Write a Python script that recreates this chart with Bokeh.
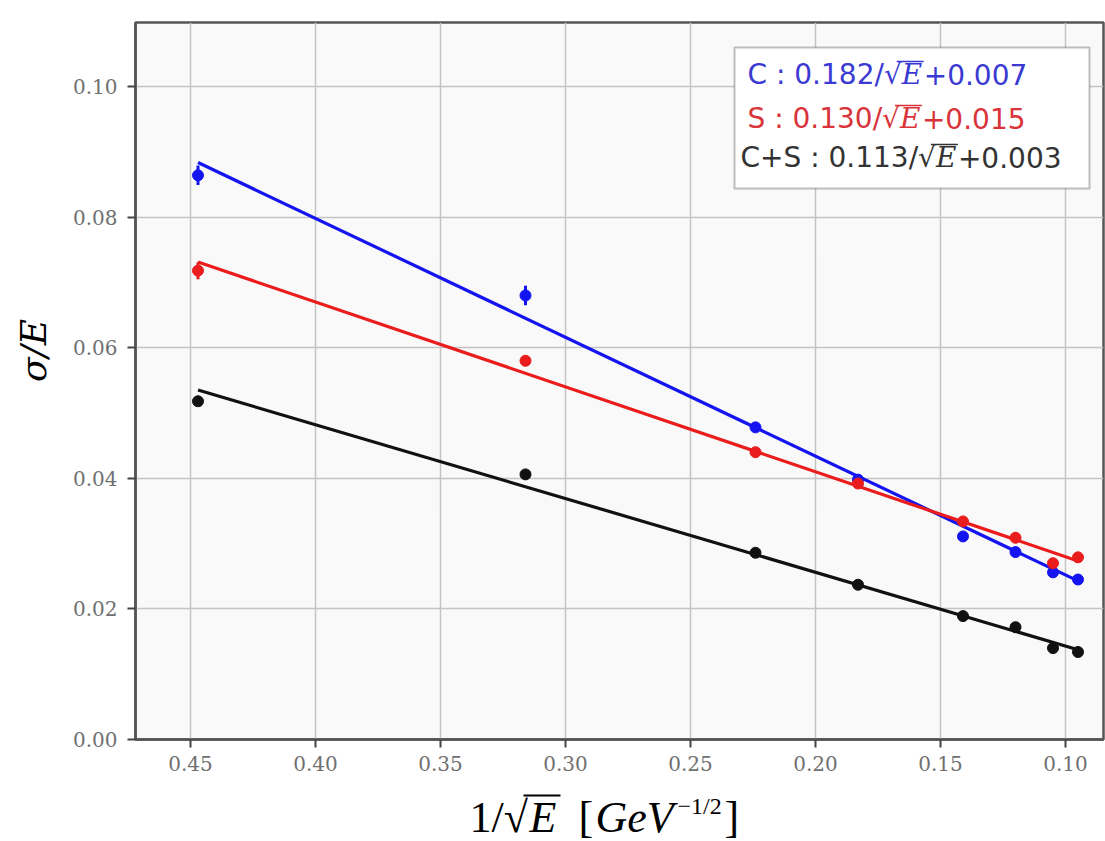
from bokeh.plotting import figure
from bokeh.layouts import column
from bokeh.models import Range1d, FixedTicker, PrintfTickFormatter, Label, BoxAnnotation
from bokeh.core.properties import value
from bokeh.embed import file_html
from bokeh.resources import INLINE
import numpy as np

# 1/sqrt(E) for the beam energies
inv_sqrt_e = [0.447, 0.316, 0.224, 0.183, 0.141, 0.120, 0.105, 0.095]

# measured resolution sigma/E and its uncertainty
c_res = [0.0864, 0.0680, 0.0478, 0.0398, 0.0311, 0.0287, 0.0256, 0.0245]
c_err = [0.0015, 0.0015, 0.0004, 0.0004, 0.0004, 0.0004, 0.0004, 0.0004]
s_res = [0.0718, 0.0580, 0.0440, 0.0392, 0.0334, 0.0309, 0.0270, 0.0279]
s_err = [0.0013, 0.0008, 0.0004, 0.0004, 0.0004, 0.0008, 0.0004, 0.0004]
cs_res = [0.0518, 0.0406, 0.0286, 0.0237, 0.0189, 0.0172, 0.0140, 0.0134]
cs_err = [0.0004, 0.0004, 0.0003, 0.0003, 0.0003, 0.0003, 0.0003, 0.0003]

# linear fits: sigma/E = a/sqrt(E) + b
c_fit = (0.182, 0.007)
s_fit = (0.130, 0.015)
cs_fit = (0.113, 0.003)

x_ticks = [0.45, 0.40, 0.35, 0.30, 0.25, 0.20, 0.15, 0.10]
y_ticks = [0.00, 0.02, 0.04, 0.06, 0.08, 0.10]

BLUE = "#1414f0"
RED = "#ea1c1c"
BLACK = "#111111"

W, H = 1105, 841
MAIN_H = 778
LAB_H = H - MAIN_H
FL, FR, FT, FB = 135, 1103, 22, 739  # frame edges in the main figure
X0, X1 = 0.472, 0.0848
Y0, Y1 = 0.0, 0.1098

p = figure(width=W, height=MAIN_H, x_range=Range1d(X0, X1), y_range=Range1d(Y0, Y1),
           output_backend="svg", toolbar_location=None,
           min_border_left=FL, min_border_right=W - FR, min_border_top=FT,
           min_border_bottom=MAIN_H - FB)

p.background_fill_color = "#f9f9f9"
p.border_fill_color = "white"
p.outline_line_color = "#555555"
p.outline_line_width = 2.5

for ax in (p.xaxis, p.yaxis):
    ax.axis_line_color = "#555555"
    ax.axis_line_width = 2.5
    ax.major_tick_line_color = "#444444"
    ax.major_tick_line_width = 2
    ax.major_tick_out = 8
    ax.major_tick_in = 0
    ax.minor_tick_line_color = None
    ax.major_label_text_font = "DejaVu Serif"
    ax.major_label_text_font_size = "20px"
    ax.major_label_text_color = "#707070"
    ax.formatter = PrintfTickFormatter(format="%.2f")
p.xaxis.ticker = FixedTicker(ticks=x_ticks)
p.yaxis.ticker = FixedTicker(ticks=y_ticks)
p.xaxis.major_label_standoff = 8
p.yaxis.major_label_standoff = 10

p.grid.grid_line_color = "#c4c4c4"
p.grid.grid_line_width = 1.5

x = np.array(inv_sqrt_e)
x_line = np.array([inv_sqrt_e[0], inv_sqrt_e[-1]])

series = [
    (c_res, c_err, c_fit, BLUE),
    (s_res, s_err, s_fit, RED),
    (cs_res, cs_err, cs_fit, BLACK),
]
for res, err, (a, b), col in series:
    y = np.array(res)
    e = np.array(err)
    p.line(x_line, a * x_line + b, line_color=col, line_width=3.2)
    p.segment(x0=x, y0=y - e, x1=x, y1=y + e, line_color=col, line_width=3)
    p.scatter(x, y, size=11, fill_color=col, line_color=col)


def label(text, cx, cy, size, font, color="black", style="normal"):
    p.add_layout(Label(x=cx - FL, y=FB - cy, x_units="screen", y_units="screen", text=text,
                       text_font=font, text_font_size=f"{size}px", text_font_style=style,
                       text_color=color, text_align="left", text_baseline="alphabetic"))


def bar(x0, x1, cy, color="black", t=2):
    p.add_layout(BoxAnnotation(left=x0 - FL, right=x1 - FL, top=FB - cy + t / 2, bottom=FB - cy - t / 2,
                               left_units="screen", right_units="screen",
                               top_units="screen", bottom_units="screen",
                               fill_color=color, fill_alpha=1, line_color=None, level="overlay"))


# fit-result box
p.add_layout(BoxAnnotation(left=734 - FL, right=1089 - FL, top=FB - 47, bottom=FB - 188,
                           left_units="screen", right_units="screen",
                           top_units="screen", bottom_units="screen",
                           fill_color="white", fill_alpha=1, line_color="#2a2a2a", line_width=2))

legend_rows = [
    ("C : ", c_fit, "#3a3ad2", 747, 74),
    ("S : ", s_fit, "#d8343a", 747, 118),
    ("C+S : ", cs_fit, "#333333", 740, 157),
]
fs = 28
for name, (a, b), col, cx, cy in legend_rows:
    prefix = f"{name}{a:.3f}/√"
    label(prefix, cx, cy, fs, "DejaVu Sans", col)
    n_units = sum({"C": 0.698, "S": 0.635, "+": 0.838, " ": 0.318, ":": 0.337, ".": 0.318,
                   "/": 0.337}.get(ch, 0.636) for ch in prefix)
    ex = cx + n_units * fs
    label("E", ex, cy, fs, "DejaVu Serif", col, style="italic")
    bar(ex - 5, ex + 22, cy - 13, col, 1.5)
    label(f"+{b:.3f}", ex + 22, cy, fs, "DejaVu Sans", col)

# y-axis title, placed in the left side panel
px_per_x = (FR - FL) / (X0 - X1)
px_per_y = (FB - FT) / (Y1 - Y0)
p.add_layout(Label(x=X0 + (FL - 33) / px_per_x, y=(FB - 350) / px_per_y,
                   x_units="data", y_units="data", text="σ/E",
                   text_font="DejaVu Serif", text_font_size="36px", text_font_style="italic",
                   text_color="black", text_align="center", text_baseline="middle",
                   angle=np.pi / 2), "left")

# x-axis title strip; its frame lines up with the main frame, data units = canvas pixels
q = figure(width=W, height=LAB_H, x_range=Range1d(FL, FR), y_range=Range1d(LAB_H, 0),
           output_backend="svg", toolbar_location=None, x_axis_type=None, y_axis_type=None,
           min_border_left=FL, min_border_right=W - FR, min_border_top=0, min_border_bottom=0)
q.outline_line_color = None
q.background_fill_color = "white"
q.border_fill_color = "white"

bl = 817 - MAIN_H
title_parts = [
    ("1/√", 469, bl, "44px", "normal"),
    ("E", 529, bl, "44px", "italic"),
    ("[", 578, bl, "44px", "normal"),
    ("GeV", 595, bl, "44px", "italic"),
    ("−1/2", 677, 805 - MAIN_H, "24px", "normal"),
    ("]", 724, bl, "44px", "normal"),
]
for txt, tx, ty, size, style in title_parts:
    q.text(x=[tx], y=[ty], text=[txt], text_font=value("Liberation Serif"),
           text_font_size=value(size), text_font_style=style, text_color="black",
           text_align="left", text_baseline="alphabetic")
q.segment(x0=[523], y0=[795 - MAIN_H], x1=[560], y1=[795 - MAIN_H], line_color="black", line_width=2)

layout = column(p, q, spacing=0)
open("out.html", "w").write(file_html(layout, INLINE))
